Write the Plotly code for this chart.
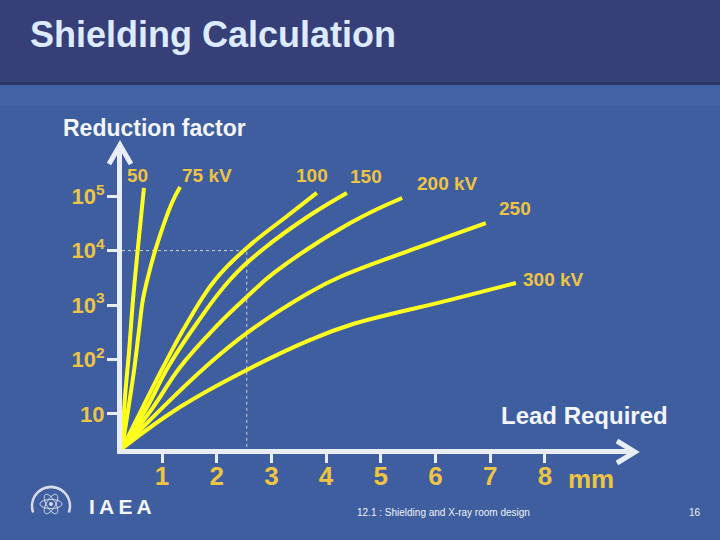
import math
import plotly.graph_objects as go

# ---------------- data ----------------
kv_labels = ["50", "75 kV", "100", "150", "200 kV", "250", "300 kV"]

lead_50 = [0.27, 0.32, 0.40, 0.47, 0.56, 0.67]
red_50 = [2.3, 18, 150, 1240, 11200, 142000]

lead_75 = [0.27, 0.38, 0.49, 0.58, 0.65, 0.73, 0.89, 1.18, 1.33]
red_75 = [2.3, 11.7, 64, 347, 1240, 2880, 11200, 75000, 148000]

lead_100 = [0.27, 0.65, 1.02, 1.46, 1.97, 2.55, 3.29, 3.83]
red_100 = [2.3, 13.3, 72, 467, 2880, 11200, 43300, 115000]

lead_150 = [0.27, 0.73, 1.11, 1.64, 2.24, 2.83, 3.71, 4.38]
red_150 = [2.3, 13.3, 72, 467, 2880, 10250, 45100, 115000]

lead_200 = [0.27, 0.84, 1.33, 2.0, 2.55, 3.07, 4.44, 5.39]
red_200 = [2.3, 13.3, 72, 411, 1400, 4050, 32100, 92700]

lead_250 = [0.27, 1.02, 1.79, 2.55, 3.71, 4.25, 5.66, 6.92]
red_250 = [2.3, 13.3, 72, 305, 1730, 3270, 11200, 32100]

lead_300 = [0.27, 1.33, 2.55, 3.71, 4.44, 6.27, 7.47]
red_300 = [2.3, 13.3, 64, 228, 429, 1240, 2540]

lead_ticks = [1, 2, 3, 4, 5, 6, 7, 8]
lead_tick_text = ["1", "2", "3", "4", "5", "6", "7", "8"]
factor_ticks = [10, 100, 1000, 10000, 100000]
factor_tick_text = ["10", "10<sup>2</sup>", "10<sup>3</sup>", "10<sup>4</sup>", "10<sup>5</sup>"]

example_lead = 2.55      # mm (dotted guide)
example_factor = 10000   # reduction factor (dotted guide)

series_x = [lead_50, lead_75, lead_100, lead_150, lead_200, lead_250, lead_300]
series_y = [red_50, red_75, red_100, red_150, red_200, red_250, red_300]

# ---------------- layout geometry (pixels) ----------------
W, H = 720, 540
PL, PR, PT, PB = 122, 630, 150, 449   # plot area in pixels
TICK1_PX, MM_PX = 162, 54.7            # x: pixel of "1", pixels per mm
T1000_PY, DEC_PX = 305, 54.4           # y: pixel of 10^3, pixels per decade

def px2x(px):
    return 1 + (px - TICK1_PX) / MM_PX

def py2l(py):
    return 3 + (T1000_PY - py) / DEC_PX

x_range = [px2x(PL), px2x(PR)]
y_range = [py2l(PB), py2l(PT)]

def xp(px):
    return (px - PL) / (PR - PL)

def yp(py):
    return (PB - py) / (PB - PT)

GOLD = "#EDC443"
WHITE = "#E9EDF5"
YELLOW = "#FFFF1E"
BG = "#3F5E9F"
BANNER = "#373F79"
FONT = "Liberation Sans, Arial, sans-serif"

fig = go.Figure()

# dotted guide lines
fig.add_trace(go.Scatter(
    x=[x_range[0], example_lead, example_lead],
    y=[example_factor, example_factor, 10 ** y_range[0]],
    mode="lines", line=dict(color="rgba(235,235,205,0.85)", width=1, dash="dot"),
    hoverinfo="skip", showlegend=False))

for name, xs, ys in zip(kv_labels, series_x, series_y):
    fig.add_trace(go.Scatter(
        x=xs, y=ys, mode="lines", name=name,
        line=dict(color=YELLOW, width=4, shape="spline", smoothing=1.2),
        showlegend=False))

# curve labels (pixel offsets from each curve's end)
label_shift = [(-6, 12), (27, 11), (-5, 17), (19, 16), (45, 14), (29, 15), (38, 3)]
annotations = []
for name, xs, ys, (dx, dy) in zip(kv_labels, series_x, series_y, label_shift):
    annotations.append(dict(
        x=xs[-1], y=math.log10(ys[-1]), xref="x", yref="y", text=name,
        showarrow=False, xshift=dx, yshift=dy, xanchor="center", yanchor="middle",
        font=dict(family=FONT, size=19, color=GOLD, weight="bold")))

def paper_text(text, px, py, size, color, anchor="left", bold=True):
    annotations.append(dict(
        x=xp(px), y=yp(py), xref="paper", yref="paper", text=text, showarrow=False,
        xanchor=anchor, yanchor="middle",
        font=dict(family=FONT, size=size, color=color, weight="bold" if bold else "normal")))

paper_text("Shielding Calculation", 28, 34, 36, "#DCEBFF")
paper_text("Reduction factor", 61, 128, 23, "#F2F5FA")
paper_text("Lead Required", 499, 415, 24, "#F2F5FA")
paper_text("mm", 591, 479, 26, GOLD, anchor="center")
paper_text("12.1 : Shielding and X-ray room design", 355, 512, 10, "#F0F3F8", bold=False)
paper_text("16", 695, 512, 10, "#F0F3F8", anchor="center", bold=False)
paper_text("I\u2009A\u2009E\u2009A", 87, 506, 21, "#F4F6FA")

shapes = []
# banner
shapes.append(dict(type="rect", xref="paper", yref="paper", x0=xp(0), x1=xp(W),
                   y0=yp(82), y1=yp(0), fillcolor=BANNER, line=dict(width=0), layer="below"))
shapes.append(dict(type="rect", xref="paper", yref="paper", x0=xp(0), x1=xp(W),
                   y0=yp(85), y1=yp(82), fillcolor="#2F3769", line=dict(width=0), layer="below"))
shapes.append(dict(type="rect", xref="paper", yref="paper", x0=xp(0), x1=xp(W),
                   y0=yp(106), y1=yp(85), fillcolor="#4463A4", line=dict(width=0), layer="below"))

def path(points):
    return "M " + " L ".join(f"{xp(a):.5f},{yp(b):.5f}" for a, b in points)

# arrow heads
shapes.append(dict(type="path", xref="paper", yref="paper",
                   path=path([(109, 164), (120, 145), (131, 164)]),
                   line=dict(color=WHITE, width=5)))
shapes.append(dict(type="path", xref="paper", yref="paper",
                   path=path([(617, 441), (635, 452), (617, 463)]),
                   line=dict(color=WHITE, width=5)))
# y axis extension to the arrow tip
shapes.append(dict(type="line", xref="paper", yref="paper",
                   x0=xp(PL - 2.5), x1=xp(PL - 2.5), y0=yp(PT + 2), y1=yp(146),
                   line=dict(color=WHITE, width=5)))

# IAEA emblem (simplified)
cx, cy = 51, 504
for ang in (0, 60, 120):
    a = math.radians(ang)
    pts = []
    for k in range(41):
        t = 2 * math.pi * k / 40
        ex, ey = 11 * math.cos(t), 4.5 * math.sin(t)
        pts.append((cx + ex * math.cos(a) - ey * math.sin(a), cy + ex * math.sin(a) + ey * math.cos(a)))
    shapes.append(dict(type="path", xref="paper", yref="paper", path=path(pts),
                       line=dict(color="#D5DBE8", width=1)))
shapes.append(dict(type="circle", xref="paper", yref="paper",
                   x0=xp(cx - 2), x1=xp(cx + 2), y0=yp(cy + 2), y1=yp(cy - 2),
                   fillcolor="#D5DBE8", line=dict(width=0)))
for side in (-1, 1):
    arc = []
    for k in range(21):
        t = math.radians(200 - 150 * k / 20)
        arc.append((cx + side * 19 * math.cos(t), cy - 19 * math.sin(t) + 2))
    shapes.append(dict(type="path", xref="paper", yref="paper", path=path(arc),
                       line=dict(color="#D5DBE8", width=2.5)))

fig.update_layout(
    width=W, height=H,
    margin=dict(l=PL, r=W - PR, t=PT, b=H - PB, pad=0),
    paper_bgcolor=BG, plot_bgcolor=BG,
    showlegend=False,
    shapes=shapes, annotations=annotations,
    xaxis=dict(range=x_range, showgrid=False, zeroline=False,
               showline=True, linecolor=WHITE, linewidth=5,
               ticks="outside", ticklen=9, tickwidth=3, tickcolor=WHITE,
               tickvals=lead_ticks, ticktext=lead_tick_text, ticklabelstandoff=-9,
               tickfont=dict(family=FONT, size=26, color=GOLD, weight="bold")),
    yaxis=dict(type="log", range=y_range, showgrid=False, zeroline=False,
               showline=True, linecolor=WHITE, linewidth=5,
               ticks="outside", ticklen=10, tickwidth=3, tickcolor=WHITE,
               tickvals=factor_ticks, ticktext=factor_tick_text, ticklabelstandoff=-2,
               tickfont=dict(family=FONT, size=22, color=GOLD, weight="bold")),
)

fig.write_html("out.html", config={"displayModeBar": False},
               post_script="document.body.style.margin='0';document.body.style.padding='0';")
